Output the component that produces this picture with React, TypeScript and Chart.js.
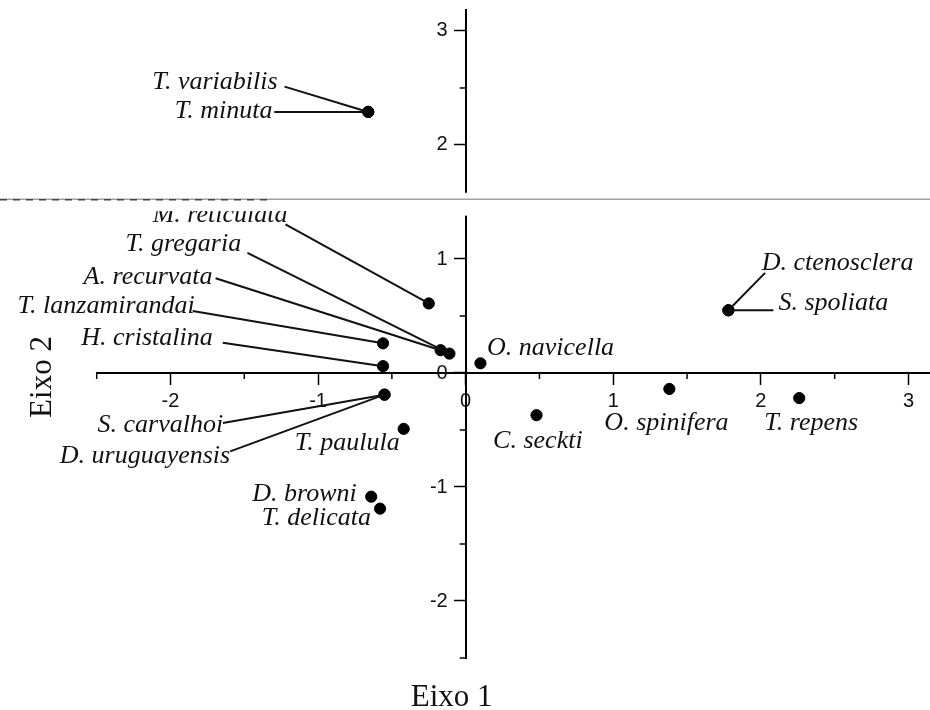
import React, { useEffect, useRef } from "react";
import { Chart, registerables } from "chart.js";

Chart.register(...registerables);

// ---- data ----
const species = [
  "T. variabilis", "T. minuta", "M. reticulata", "T. gregaria", "A. recurvata",
  "T. lanzamirandai", "H. cristalina", "O. navicella", "S. carvalhoi", "D. uruguayensis",
  "T. paulula", "D. browni", "T. delicata", "C. seckti", "O. spinifera",
  "T. repens", "D. ctenosclera", "S. spoliata",
];
const eixo1 = [
  -0.66, -0.66, -0.25, -0.11, -0.17,
  -0.56, -0.56, 0.1, -0.55, -0.55,
  -0.42, -0.64, -0.58, 0.48, 1.38,
  2.26, 1.78, 1.78,
];
const eixo2 = [
  2.29, 2.29, 0.61, 0.17, 0.2,
  0.26, 0.06, 0.085, -0.19, -0.19,
  -0.49, -1.085, -1.19, -0.37, -0.14,
  -0.22, 0.55, 0.55,
];
const xRange = [-2.5, 3.146];
const yRange = [-2.5, 3.184];
const tickStep = 0.5;
const xTitle = "Eixo 1";
const yTitle = "Eixo 2";
const axisBreak = { line: 1.525, top: 1.58, bottom: 1.42, axisBottom: 1.38 };

// ---- label layout (pixel offsets from each point; styling only) ----
type Lay = { align: CanvasTextAlign; dx: number; dy: number; lead: [number, number] | null };
const labelLayout: Lay[] = [
  { align: "right", dx: -90.7, dy: -23.3, lead: [-83.7, -25.3] },
  { align: "right", dx: -95.7, dy: 5.7, lead: [-94, 0] },
  { align: "right", dx: -141.3, dy: -81.3, lead: [-143.3, -79] },
  { align: "right", dx: -208.3, dy: -102.3, lead: [-202, -100.7] },
  { align: "right", dx: -228, dy: -66, lead: [-225, -72] },
  { align: "right", dx: -188.3, dy: -30.3, lead: [-190.3, -32.3] },
  { align: "right", dx: -170.3, dy: -21, lead: [-160.3, -23.3] },
  { align: "left", dx: 6.6, dy: -8.3, lead: null },
  { align: "right", dx: -161.3, dy: 37.7, lead: [-161.6, 28.3] },
  { align: "right", dx: -154.3, dy: 68.3, lead: [-154.3, 56.7] },
  { align: "right", dx: -4, dy: 21, lead: null },
  { align: "right", dx: -14.4, dy: 4, lead: null },
  { align: "right", dx: -9, dy: 16, lead: null },
  { align: "left", dx: -43.4, dy: 33.3, lead: null },
  { align: "left", dx: -65, dy: 40.7, lead: null },
  { align: "left", dx: -35, dy: 32.3, lead: null },
  { align: "left", dx: 33.4, dy: -40.7, lead: [36.7, -37.4] },
  { align: "left", dx: 50, dy: -0.7, lead: [45, 0] },
];

const isMajor = (v: number) => Math.abs(v - Math.round(v)) < 1e-6;
const TICK_FONT = "20px 'Liberation Sans'";

const annotatePlugin = {
  id: "annotate",
  afterDraw(chart: any) {
    const ctx: CanvasRenderingContext2D = chart.ctx;
    const xs = chart.scales.x;
    const ys = chart.scales.y;
    const meta = chart.getDatasetMeta(0);
    const x0 = xs.getPixelForValue(0);
    const y0 = ys.getPixelForValue(0);
    ctx.save();

    // minor ticks (half length)
    ctx.strokeStyle = "#000";
    ctx.lineWidth = 1.5;
    xs.ticks.forEach((t: any) => {
      if (isMajor(t.value)) return;
      const px = xs.getPixelForValue(t.value);
      ctx.beginPath();
      ctx.moveTo(px, y0);
      ctx.lineTo(px, y0 + 6);
      ctx.stroke();
    });
    ys.ticks.forEach((t: any) => {
      if (isMajor(t.value)) return;
      const py = ys.getPixelForValue(t.value);
      ctx.beginPath();
      ctx.moveTo(x0, py);
      ctx.lineTo(x0 - 6, py);
      ctx.stroke();
    });

    // y tick labels, to the left of the tick marks
    ctx.font = TICK_FONT;
    ctx.fillStyle = "#111";
    ctx.textAlign = "right";
    ctx.textBaseline = "middle";
    ys.ticks.forEach((t: any) => {
      if (!isMajor(t.value)) return;
      const py = ys.getPixelForValue(t.value);
      ctx.fillText(String(Math.round(t.value)), x0 - 18, py);
    });

    // leader lines and labels
    ctx.font = "italic 26px 'Liberation Serif'";
    ctx.fillStyle = "#111";
    ctx.textBaseline = "alphabetic";
    meta.data.forEach((pt: any, i: number) => {
      const lay = labelLayout[i];
      if (!lay) return;
      if (lay.lead) {
        ctx.beginPath();
        ctx.lineWidth = 2;
        ctx.strokeStyle = "#111";
        ctx.moveTo(pt.x + lay.lead[0], pt.y + lay.lead[1]);
        ctx.lineTo(pt.x, pt.y);
        ctx.stroke();
      }
      ctx.textAlign = lay.align;
      ctx.fillText(species[i], pt.x + lay.dx, pt.y + lay.dy);
    });

    // axis break
    const w = chart.width;
    const bTop = ys.getPixelForValue(axisBreak.top);
    const bBot = ys.getPixelForValue(axisBreak.bottom);
    const bAxis = ys.getPixelForValue(axisBreak.axisBottom);
    ctx.fillStyle = "#fff";
    ctx.fillRect(0, bTop, w, bBot - bTop);
    ctx.fillRect(x0 - 4, bTop, 8, bAxis - bTop);
    const bl = ys.getPixelForValue(axisBreak.line);
    ctx.strokeStyle = "#a0a0a0";
    ctx.lineWidth = 1.5;
    ctx.beginPath();
    ctx.moveTo(0, bl);
    ctx.lineTo(w, bl);
    ctx.stroke();
    ctx.strokeStyle = "#444";
    ctx.setLineDash([7, 6]);
    ctx.lineWidth = 1.5;
    ctx.beginPath();
    ctx.moveTo(0, bl + 0.5);
    ctx.lineTo(270, bl + 0.5);
    ctx.stroke();
    ctx.setLineDash([]);

    // axis titles
    ctx.fillStyle = "#111";
    ctx.font = "31px 'Liberation Serif'";
    ctx.textAlign = "center";
    ctx.textBaseline = "alphabetic";
    ctx.fillText(xTitle, x0 - 14, chart.height - 4);
    ctx.save();
    ctx.translate(51, y0 + 4);
    ctx.rotate(-Math.PI / 2);
    ctx.fillText(yTitle, 0, 0);
    ctx.restore();

    ctx.restore();
  },
};

export default function App() {
  const ref = useRef<HTMLCanvasElement | null>(null);
  useEffect(() => {
    if (!ref.current) return;
    const points = species.map((_, i) => ({ x: eixo1[i], y: eixo2[i] }));
    const tickCb = (v: any) => (isMajor(Number(v)) ? String(Math.round(Number(v))) : "");
    const tickColor = (c: any) => (c.tick && isMajor(c.tick.value) ? "#000" : "rgba(0,0,0,0)");
    const chart = new Chart(ref.current, {
      type: "scatter",
      data: {
        datasets: [
          {
            data: points,
            backgroundColor: "#000",
            borderColor: "#000",
            pointRadius: 5.6,
            pointHoverRadius: 5.6,
          },
        ],
      },
      options: {
        animation: false,
        responsive: false,
        events: [],
        layout: { autoPadding: false, padding: { left: 96.7, right: 0, top: 10, bottom: 52 } } as any,
        plugins: { legend: { display: false }, tooltip: { enabled: false } },
        scales: {
          x: {
            type: "linear",
            position: { y: 0 } as any,
            min: xRange[0],
            max: xRange[1],
            border: { display: true, color: "#000", width: 2 },
            grid: {
              drawOnChartArea: false,
              drawTicks: true,
              tickLength: 11,
              tickWidth: 1.5,
              tickColor,
            },
            ticks: {
              stepSize: tickStep,
              includeBounds: false,
              autoSkip: false,
              maxRotation: 0,
              padding: 5,
              color: "#111",
              font: { family: "'Liberation Sans'", size: 20 },
              callback: tickCb,
            },
          },
          y: {
            type: "linear",
            position: { x: 0 } as any,
            min: yRange[0],
            max: yRange[1],
            border: { display: true, color: "#000", width: 2 },
            grid: {
              drawOnChartArea: false,
              drawTicks: true,
              tickLength: 11,
              tickWidth: 1.5,
              tickColor,
            },
            ticks: {
              stepSize: tickStep,
              includeBounds: false,
              autoSkip: false,
              display: false,
            },
          },
        },
      },
      plugins: [annotatePlugin],
    });
    return () => chart.destroy();
  }, []);
  return (
    <div style={{ position: "absolute", left: 0, top: 0, width: 930, height: 710, background: "#fff" }}>
      <canvas ref={ref} width={930} height={710} style={{ width: 930, height: 710 }} />
    </div>
  );
}
